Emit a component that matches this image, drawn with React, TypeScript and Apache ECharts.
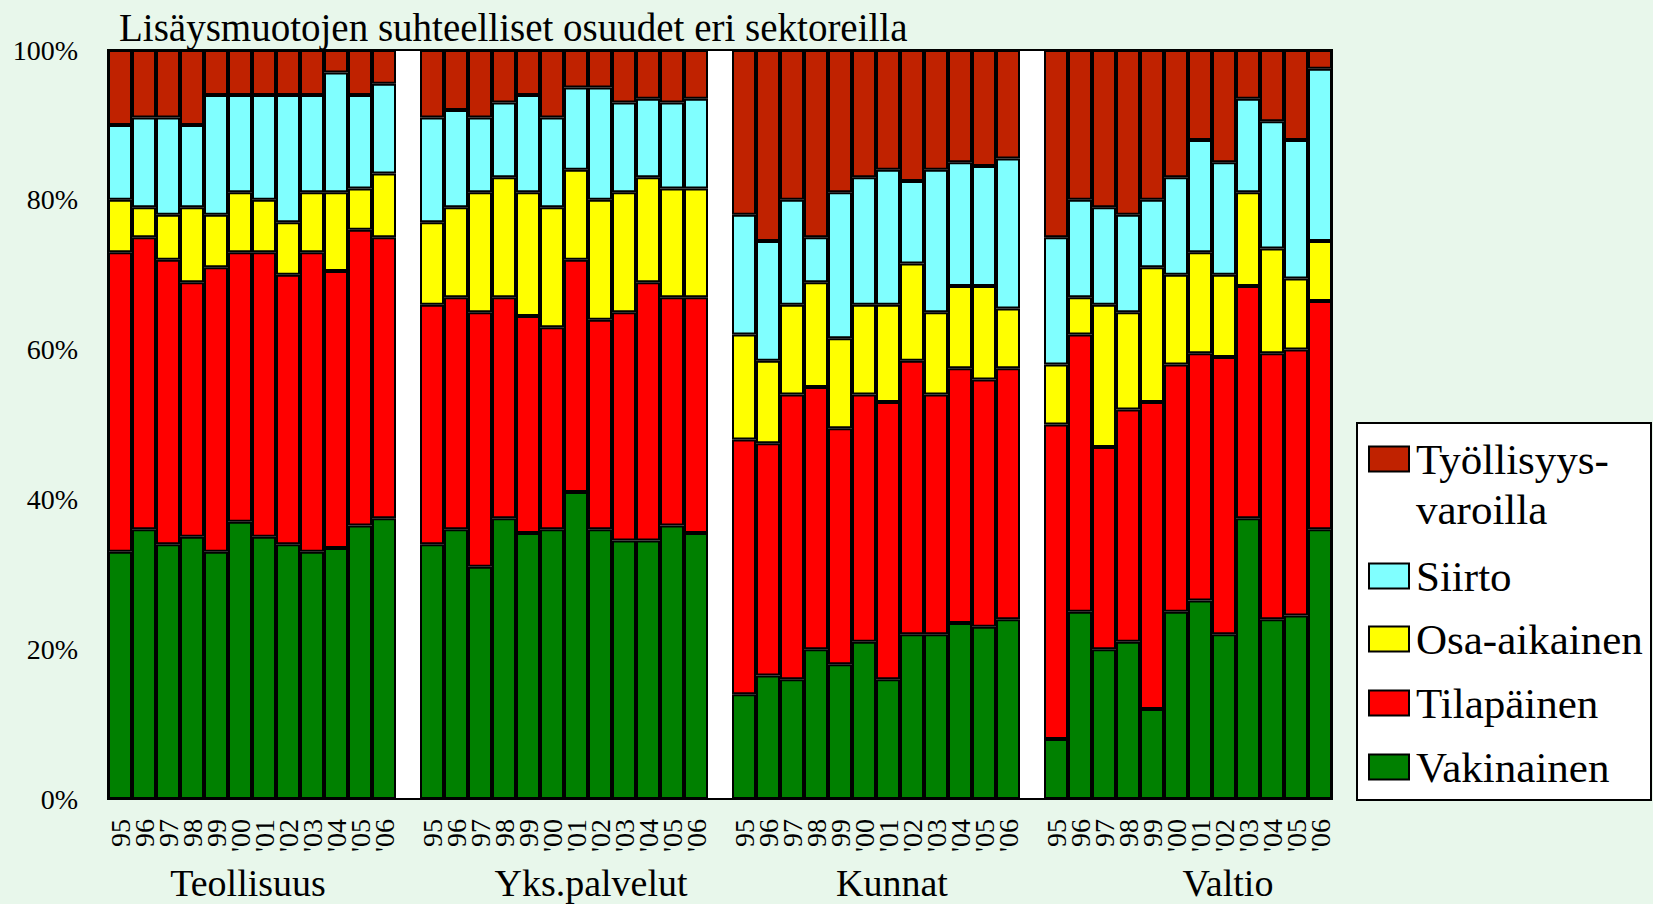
import React, { useEffect, useRef } from "react";
import * as echarts from "echarts";

const sectors = ["Teollisuus", "Yks.palvelut", "Kunnat", "Valtio"];
const years = ["95", "96", "97", "98", "99", "'00", "'01", "'02", "'03", "'04", "'05", "'06"];
const seriesNames = ["Vakinainen", "Tilapäinen", "Osa-aikainen", "Siirto", "Työllisyysvaroilla"];
const legendLabels = ["Työllisyys-\nvaroilla", "Siirto", "Osa-aikainen", "Tilapäinen", "Vakinainen"];
const colors = ["#008000", "#FF0000", "#FFFF00", "#80FFFF", "#C02200"];

// values in %, 12 years per sector, sectors in order above
const vakinainen = [
  33, 36, 34, 35, 33, 37, 35, 34, 33, 33.5, 36.5, 37.5,
  34, 36, 31, 37.5, 35.5, 36, 41, 36, 34.5, 34.5, 36.5, 35.5,
  14, 16.5, 16, 20, 18, 21, 16, 22, 22, 23.5, 23, 24,
  8, 25, 20, 21, 12, 25, 26.5, 22, 37.5, 24, 24.5, 36,
];
const tilapainen = [
  40, 39, 38, 34, 38, 36, 38, 36, 40, 37, 39.5, 37.5,
  32, 31, 34, 29.5, 29, 27, 31, 28, 30.5, 34.5, 30.5, 31.5,
  34, 31, 38, 35, 31.5, 33, 37, 36.5, 32, 34, 33, 33.5,
  42, 37, 27, 31, 41, 33, 33, 37, 31, 35.5, 35.5, 30.5,
];
const osaAikainen = [
  7, 4, 6, 10, 7, 8, 7, 7, 8, 10.5, 5.5, 8.5,
  11, 12, 16, 16, 16.5, 16, 12, 16, 16, 14, 14.5, 14.5,
  14, 11, 12, 14, 12, 12, 13, 13, 11, 11, 12.5, 8,
  8, 5, 19, 13, 18, 12, 13.5, 11, 12.5, 14, 9.5, 8,
];
const siirto = [
  10, 12, 13, 11, 16, 13, 14, 17, 13, 16, 12.5, 12,
  14, 13, 10, 10, 13, 12, 11, 15, 12, 10.5, 11.5, 12,
  16, 16, 14, 6, 19.5, 17, 18, 11, 19, 16.5, 16, 20,
  17, 13, 13, 13, 9, 13, 15, 15, 12.5, 17, 18.5, 23,
];
const tyollisyysvaroilla = [
  10, 9, 9, 10, 6, 6, 6, 6, 6, 3, 6, 4.5,
  9, 8, 9, 7, 6, 9, 5, 5, 7, 6.5, 7, 6.5,
  22, 25.5, 20, 25, 19, 17, 16, 17.5, 16, 15, 15.5, 14.5,
  25, 20, 21, 22, 20, 17, 12, 15, 6.5, 9.5, 12, 2.5,
];
const yTicks = [0, 20, 40, 60, 80, 100];

const FONT = "'Liberation Serif', 'Times New Roman', serif";

function buildCategories(): string[] {
  const out: string[] = [];
  sectors.forEach((_, si) => {
    years.forEach((y) => out.push(y));
    if (si < sectors.length - 1) out.push(" ".repeat(si + 1));
  });
  return out;
}

function buildData(vals: number[]): (number | string)[] {
  const out: (number | string)[] = [];
  sectors.forEach((_, si) => {
    for (let i = 0; i < years.length; i++) out.push(vals[si * years.length + i]);
    if (si < sectors.length - 1) out.push("-");
  });
  return out;
}

export default function App() {
  const ref = useRef<HTMLDivElement>(null);
  useEffect(() => {
    if (!ref.current) return;
    const chart = echarts.init(ref.current, undefined, { renderer: "svg" });
    const allVals = [vakinainen, tilapainen, osaAikainen, siirto, tyollisyysvaroilla];

    const legendRows = [459, 576, 639, 703, 767];
    const legendColors = [colors[4], colors[3], colors[2], colors[1], colors[0]];
    const legendGraphics: any[] = [
      {
        type: "rect",
        shape: { x: 1357, y: 423, width: 294, height: 377 },
        style: { fill: "#fff", stroke: "#000", lineWidth: 2 },
      },
    ];
    legendLabels.forEach((lab, i) => {
      const cy = legendRows[i];
      legendGraphics.push({
        type: "rect",
        shape: { x: 1369, y: cy - 12.5, width: 40, height: 25 },
        style: { fill: legendColors[i], stroke: "#000", lineWidth: 2 },
      });
      legendGraphics.push({
        type: "text",
        x: 1416,
        y: cy - 25,
        style: {
          text: lab,
          font: `43px ${FONT}`,
          fill: "#000",
          lineHeight: 50,
          verticalAlign: "top",
        },
      });
    });

    const sectorCenters = [248, 591, 892, 1228];
    const sectorGraphics = sectors.map((s, i) => ({
      type: "text",
      x: sectorCenters[i],
      y: 883,
      style: {
        text: s,
        font: `38px ${FONT}`,
        fill: "#000",
        verticalAlign: "middle",
        align: "center",
      },
    }));

    chart.setOption({
      animation: false,
      backgroundColor: "#E8F7EB",
      title: {
        text: "Lisäysmuotojen suhteelliset osuudet eri sektoreilla",
        left: 119,
        top: 8,
        padding: 0,
        textStyle: { fontFamily: FONT, fontSize: 39, fontWeight: "normal", color: "#000" },
      },
      grid: {
        left: 108,
        top: 50,
        width: 1224,
        height: 749,
        show: true,
        backgroundColor: "#fff",
        borderColor: "#000",
        borderWidth: 2,
      },
      xAxis: {
        type: "category",
        data: buildCategories(),
        axisLine: { show: true, lineStyle: { color: "#000", width: 2 } },
        axisTick: { show: false },
        axisLabel: {
          interval: 0,
          rotate: 90,
          fontSize: 28,
          fontFamily: FONT,
          color: "#000",
          margin: 20,
        },
      },
      yAxis: {
        type: "value",
        min: yTicks[0],
        max: yTicks[yTicks.length - 1],
        interval: 20,
        axisLine: { show: false },
        axisTick: { show: false },
        splitLine: { show: false },
        axisLabel: {
          formatter: "{value}%",
          fontSize: 28,
          fontFamily: FONT,
          color: "#000",
          margin: 30,
        },
      },
      series: seriesNames.map((name, i) => ({
        name,
        type: "bar",
        stack: "total",
        barCategoryGap: "0%",
        data: buildData(allVals[i]),
        itemStyle: { color: colors[i], borderColor: "#000", borderWidth: 2 },
      })),
      graphic: [...legendGraphics, ...sectorGraphics],
    });
    return () => chart.dispose();
  }, []);
  return (
    <div
      ref={ref}
      style={{ position: "fixed", left: 0, top: 0, width: 1653, height: 904, background: "#E8F7EB" }}
    />
  );
}
